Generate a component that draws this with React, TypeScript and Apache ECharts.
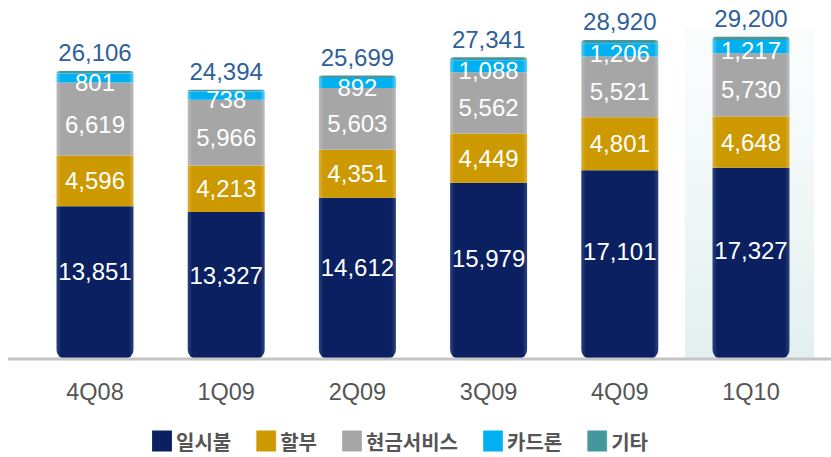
import React, { useEffect, useRef } from "react";
import * as echarts from "echarts";

const categories = ["4Q08", "1Q09", "2Q09", "3Q09", "4Q09", "1Q10"];
const ilsibul = [13851, 13327, 14612, 15979, 17101, 17327];
const halbu = [4596, 4213, 4351, 4449, 4801, 4648];
const cashService = [6619, 5966, 5603, 5562, 5521, 5730];
const cardLoan = [801, 738, 892, 1088, 1206, 1217];
const others = [239, 150, 241, 263, 291, 278];
const totals = [26106, 24394, 25699, 27341, 28920, 29200];

const fmt = (v: number) => v.toLocaleString("en-US");

export default function App() {
  const ref = useRef<HTMLDivElement>(null);
  useEffect(() => {
    if (!ref.current) return;
    const chart = echarts.init(ref.current, undefined, { renderer: "svg" });
    const valueLabel = (pos: any, offset: number[] = [0, 0]) => ({
      show: true,
      position: pos,
      offset,
      align: "center",
      verticalAlign: "middle",
      color: "#ffffff",
      fontSize: 24,
      fontFamily: "Liberation Sans, Arial, sans-serif",
      formatter: (p: any) => fmt(p.value),
    });
    const grad = (edge: string, mid: string) =>
      new echarts.graphic.LinearGradient(0, 0, 1, 0, [
        { offset: 0, color: edge },
        { offset: 0.06, color: mid },
        { offset: 0.94, color: mid },
        { offset: 1, color: edge },
      ]);
    const barW = 77;
    chart.setOption({
      animation: false,
      backgroundColor: "#ffffff",
      graphic: [
        {
          type: "rect",
          z: -10,
          shape: { x: 685, y: 28, width: 129, height: 330 },
          style: {
            fill: new echarts.graphic.LinearGradient(0, 0, 0, 1, [
              { offset: 0, color: "rgba(240,247,247,0.3)" },
              { offset: 1, color: "#e3efef" },
            ]),
          },
        },
        {
          type: "line",
          z: 10,
          shape: { x1: 8, y1: 359, x2: 831, y2: 359 },
          style: { stroke: "#c4c4c4", lineWidth: 3 },
        },
      ],
      legend: {
        left: 147,
        top: 428,
        padding: [2, 5, 2, 5],
        itemWidth: 20,
        itemHeight: 21,
        itemGap: 25,
        icon: "rect",
        textStyle: {
          fontSize: 20,
          lineHeight: 22,
          fontWeight: "bold",
          color: "#555555",
          fontFamily: "Noto Sans CJK KR, sans-serif",
          padding: [0, 0, 0, -1],
        },
        data: ["일시불", "할부", "현금서비스", "카드론", "기타"],
      },
      grid: { left: 29.4, right: 14.4, top: 28, bottom: 98 },
      xAxis: {
        type: "category",
        data: categories,
        axisLine: { show: false },
        axisTick: { show: false },
        axisLabel: {
          margin: 21,
          fontSize: 23.5,
          color: "#555555",
          fontFamily: "Liberation Sans, Arial, sans-serif",
        },
      },
      yAxis: {
        type: "value",
        min: 0,
        max: 30000,
        show: false,
        splitLine: { show: false },
      },
      series: [
        {
          name: "일시불",
          type: "bar",
          stack: "t",
          barWidth: barW,
          data: ilsibul,
          itemStyle: {
            color: grad("#2c437f", "#0a2060"),
            borderRadius: [0, 0, 9, 9],
          },
          label: valueLabel(["50%", "43%"]),
        },
        {
          name: "할부",
          type: "bar",
          stack: "t",
          data: halbu,
          itemStyle: { color: grad("#dcae3a", "#cc9900") },
          label: valueLabel(["50%", "50%"]),
        },
        {
          name: "현금서비스",
          type: "bar",
          stack: "t",
          data: cashService,
          itemStyle: { color: grad("#bcbcbc", "#a6a6a6") },
          label: valueLabel(["50%", "57%"]),
        },
        {
          name: "카드론",
          type: "bar",
          stack: "t",
          data: cardLoan,
          itemStyle: { color: grad("#5cccf5", "#00b0f0") },
          label: valueLabel(["50%", "50%"], [0, 4]),
          z: 3,
        },
        {
          name: "기타",
          type: "bar",
          stack: "t",
          data: others,
          itemStyle: {
            color: grad("#7fb7ba", "#44979c"),
            borderRadius: [5, 5, 0, 0],
          },
          label: {
            show: true,
            position: "top",
            distance: 6,
            color: "#2f5f98",
            fontSize: 24,
            fontFamily: "Liberation Sans, Arial, sans-serif",
            formatter: (p: any) => fmt(totals[p.dataIndex]),
          },
        },
      ],
    });
    return () => chart.dispose();
  }, []);
  return (
    <div
      ref={ref}
      style={{ position: "absolute", left: 0, top: 0, width: 831, height: 457 }}
    />
  );
}
